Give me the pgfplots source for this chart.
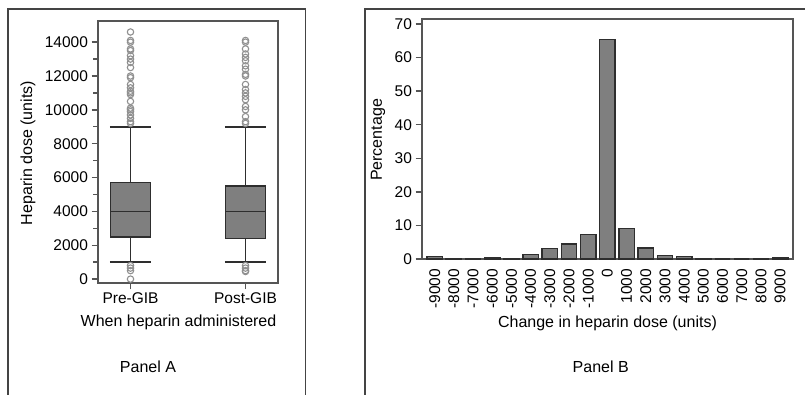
\documentclass[border=0pt]{standalone}
\usepackage{fontspec}
\setmainfont{Liberation Sans}
\usepackage{pgfplots}
\pgfplotsset{compat=1.18}
\definecolor{axgray}{HTML}{555555}
\definecolor{boxgray}{HTML}{7F7F7F}
\definecolor{edge}{HTML}{2E2E2E}
\definecolor{outl}{HTML}{909090}
\definecolor{framec}{HTML}{444444}
\pgfplotsset{
  common/.style={
    scale only axis,
    anchor=south west,
    axis line style={axgray, line width=1.7pt},
    tick style={axgray, line width=1.4pt},
    tick align=outside,
    tick pos=left,
    major tick length=6.5pt,
    minor tick length=5pt,
    ticklabel style={font=\fontsize{15.5}{18}\selectfont, text=black},
    /pgf/number format/assume math mode=true,
    /pgf/number format/1000 sep={},
    scaled ticks=false,
    clip=false,
  },
  bx/.style={draw=edge, line width=1.5pt, fill=boxgray},
  ln/.style={draw=edge, line width=1.5pt, mark=none},
  ol/.style={only marks, mark=o, mark size=3.2pt, mark options={draw=outl, line width=1.1pt}},
}
\begin{document}
\begin{tikzpicture}
\path[use as bounding box] (0pt,0pt) rectangle (805pt,395pt);
\draw[framec, line width=1.4pt] (8pt,0pt) -- (8pt,386pt) -- (305.5pt,386pt) -- (305.5pt,0pt);
\draw[framec, line width=1.4pt] (365pt,0pt) -- (365pt,386pt) -- (805pt,386pt);

% Panel A
\begin{axis}[common,
  at={(98pt,112pt)}, width=180pt, height=262pt,
  xmin=0.7174, xmax=2.2826, ymin=-230, ymax=15250,
  xtick={1,2}, xticklabels={Pre-GIB,Post-GIB},
  ytick={0,2000,...,14000}, minor ytick={1000,3000,...,13000},
]
% Pre-GIB: whiskers 1000-9000, Q1 2500, median 4000, Q3 5700
\addplot[ln] coordinates {(1,1000) (1,2500)};
\addplot[ln] coordinates {(1,5700) (1,9000)};
\addplot[ln] coordinates {(0.82,1000) (1.18,1000)};
\addplot[ln] coordinates {(0.82,9000) (1.18,9000)};
\addplot[bx] coordinates {(0.826,2500) (1.174,2500) (1.174,5700) (0.826,5700)} --cycle;
\addplot[ln] coordinates {(0.826,4000) (1.174,4000)};
\addplot[ol] coordinates {(1,14600) (1,14100) (1,14000) (1,13600) (1,13500) (1,13200) (1,13000) (1,12800) (1,12500) (1,12000) (1,11900) (1,11500) (1,11300) (1,11100) (1,11000) (1,10900) (1,10500) (1,10100) (1,10000) (1,9900) (1,9700) (1,9500) (1,9300) (1,9200) (1,800) (1,650) (1,500) (1,0)};
% Post-GIB: whiskers 1000-9000, Q1 2400, median 4000, Q3 5500
\addplot[ln] coordinates {(2,1000) (2,2400)};
\addplot[ln] coordinates {(2,5500) (2,9000)};
\addplot[ln] coordinates {(1.82,1000) (2.18,1000)};
\addplot[ln] coordinates {(1.82,9000) (2.18,9000)};
\addplot[bx] coordinates {(1.826,2400) (2.174,2400) (2.174,5500) (1.826,5500)} --cycle;
\addplot[ln] coordinates {(1.826,4000) (2.174,4000)};
\addplot[ol] coordinates {(2,14100) (2,14000) (2,13600) (2,13300) (2,13100) (2,12900) (2,12600) (2,12400) (2,12100) (2,12000) (2,11500) (2,11200) (2,11000) (2,10800) (2,10600) (2,10200) (2,10000) (2,9600) (2,9300) (2,9200) (2,800) (2,650) (2,500) (2,450)};
\end{axis}

% Panel B
\begin{axis}[common,
  at={(422pt,136pt)}, width=371pt, height=240pt,
  xmin=-9660, xmax=9670, ymin=0, ymax=71.5,
  ytick={0,10,...,70},
  xtick={-9000,-8000,...,9000},
  xticklabels={-9000,-8000,-7000,-6000,-5000,-4000,-3000,-2000,-1000,0,1000,2000,3000,4000,5000,6000,7000,8000,9000},
  xticklabel style={rotate=90, anchor=east},
  major x tick style={draw=none},
  ybar, bar width=800,
]
\addplot[fill=boxgray, draw=edge, line width=1.4pt] coordinates {
  (-9000,0.8) (-8000,0.2) (-7000,0.2) (-6000,0.4) (-5000,0.2) (-4000,1.3)
  (-3000,3.1) (-2000,4.5) (-1000,7.3) (0,65.4) (1000,9.0) (2000,3.3)
  (3000,1.0) (4000,0.7) (5000,0.2) (6000,0) (7000,0) (8000,0.1) (9000,0.5)};
\end{axis}

\begin{scope}[font=\fontsize{16}{19}\selectfont, text=black]
\node[rotate=90] at (28pt,242pt) {Heparin dose (units)};
\node at (178.5pt,73pt) {When heparin administered};
\node at (148pt,28pt) {Panel A};
\node[rotate=90] at (378pt,255pt) {Percentage};
\node at (607.5pt,72pt) {Change in heparin dose (units)};
\node at (600.7pt,28pt) {Panel B};
\end{scope}
\end{tikzpicture}
\end{document}
